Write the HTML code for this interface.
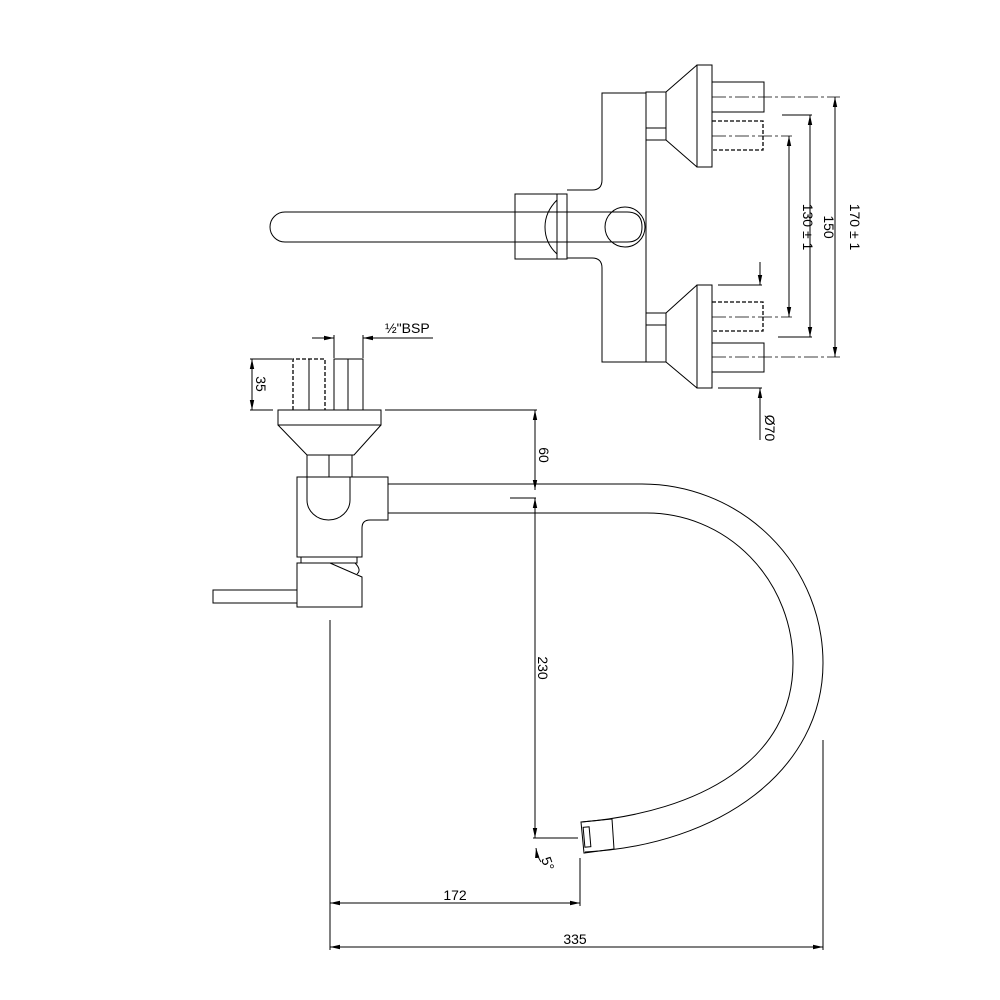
<!DOCTYPE html>
<html><head><meta charset="utf-8"><style>html,body{margin:0;padding:0;background:#fff}svg{display:block}text{font-family:"Liberation Sans",sans-serif;font-size:14px;fill:#000}</style></head>
<body>
<svg width="1000" height="1000" viewBox="0 0 1000 1000" xmlns="http://www.w3.org/2000/svg">
<defs>
<marker id="a" viewBox="0 0 10 6" refX="10" refY="3" markerWidth="10" markerHeight="6" orient="auto-start-reverse" markerUnits="userSpaceOnUse"><path d="M0,0.8 L10,3 L0,5.2 z" fill="#000"/></marker>
</defs>
<g fill="none" stroke="#000" stroke-width="1">
<path d="M646,93 H602 V180 Q602,190 592,190 H567"/>
<path d="M646,362 H602 V268 Q602,258 592,258 H567"/>
<line x1="646" y1="92" x2="646" y2="362"/>
<rect x="646" y="92" width="20" height="48"/><line x1="646" y1="128" x2="666" y2="128"/>
<rect x="646" y="313" width="20" height="49"/><line x1="646" y1="325" x2="666" y2="325"/>
<path d="M666,92 L697,65 M666,140 L697,167"/>
<rect x="697" y="65" width="15" height="102"/>
<path d="M666,313 L697,285 M666,362 L697,388"/>
<rect x="697" y="285" width="15" height="103"/>
<rect x="712" y="82" width="52" height="30"/>
<path d="M712,121 H763 V150 H712" stroke-dasharray="4,2" stroke-width="1.3"/>
<path d="M712,302 H763 V331 H712" stroke-dasharray="4,2" stroke-width="1.3"/>
<rect x="712" y="343" width="52" height="29"/>
<g stroke-dasharray="14,3,3,3" stroke-width="0.7">
<line x1="712" y1="97" x2="840" y2="97"/><line x1="712" y1="136" x2="792" y2="136"/>
<line x1="712" y1="317" x2="792" y2="317"/><line x1="712" y1="357" x2="840" y2="357"/>
</g>
<rect x="515" y="194" width="42" height="65"/>
<rect x="557" y="194" width="10" height="65"/>
<path d="M557,200 Q545,212 545,227 Q545,243 557,254"/>
<circle cx="625" cy="227" r="20"/>
<path d="M642,227 Q642,212 627,212 H285 A15,15 0 0 0 285,242 H627 Q642,242 642,227"/>
<line x1="782" y1="115" x2="812" y2="115"/><line x1="778" y1="337" x2="812" y2="337"/>
<line x1="835" y1="97" x2="835" y2="357" marker-start="url(#a)" marker-end="url(#a)"/>
<line x1="810" y1="115" x2="810" y2="337" marker-start="url(#a)" marker-end="url(#a)"/>
<line x1="789" y1="136" x2="789" y2="317" marker-start="url(#a)" marker-end="url(#a)"/>
<line x1="718" y1="285" x2="762" y2="285"/><line x1="718" y1="388" x2="762" y2="388"/>
<line x1="760" y1="262" x2="760" y2="285" marker-end="url(#a)"/>
<line x1="760" y1="440" x2="760" y2="388" marker-end="url(#a)"/>
<path d="M293,410 V359 H325 V410" stroke-dasharray="4,2" stroke-width="1.3"/>
<line x1="309" y1="359" x2="309" y2="410"/>
<rect x="334" y="359" width="29" height="51"/><line x1="348" y1="359" x2="348" y2="410"/>
<rect x="278" y="410" width="103" height="15"/>
<path d="M278,425 L307,455 H354 L381,425"/>
<rect x="307" y="455" width="45" height="22"/><line x1="329" y1="455" x2="329" y2="477"/>
<path d="M297,477 H388 V520 H370 Q362,520 362,528 V557 H297 Z"/>
<path d="M307,477 V500 A21.5,20 0 0 0 350,500 V477"/>
<rect x="301" y="557" width="56" height="6"/>
<path d="M297,563 H330 L362,577 V607 H297 Z"/>
<path d="M355,563 Q362,570 357,574"/>
<rect x="213" y="590" width="84" height="13"/>
<path d="M388,484 H642 A181,179 0 0 1 823,663 C823,770 720,845 585,852"/>
<path d="M388,513 H647 A146,150 0 0 1 793,663 C793,760 700,812 582,822"/>
<path d="M581,822 L612,819 L614,849 L584,853 Z"/>
<rect x="584" y="827" width="6" height="20" transform="rotate(-5 587 837)"/>
<line x1="250" y1="359" x2="292" y2="359"/><line x1="250" y1="410" x2="273" y2="410"/>
<line x1="252" y1="359" x2="252" y2="410" marker-start="url(#a)" marker-end="url(#a)"/>
<line x1="334" y1="335" x2="334" y2="358"/><line x1="363" y1="335" x2="363" y2="358"/>
<line x1="312" y1="338" x2="334" y2="338" marker-end="url(#a)"/>
<line x1="433" y1="338" x2="363" y2="338" marker-end="url(#a)"/>
<line x1="385" y1="410" x2="537" y2="410"/>
<line x1="535" y1="410" x2="535" y2="490" marker-start="url(#a)" marker-end="url(#a)"/>
<line x1="510" y1="498" x2="536" y2="498"/>
<line x1="535" y1="498" x2="535" y2="838" marker-start="url(#a)" marker-end="url(#a)"/>
<line x1="533" y1="838" x2="578" y2="838"/>
<path d="M536,848 Q537,856 541,862" marker-start="url(#a)"/>
<line x1="330" y1="620" x2="330" y2="950"/>
<line x1="580" y1="858" x2="580" y2="906"/>
<line x1="823" y1="740" x2="823" y2="950"/>
<line x1="330" y1="903" x2="580" y2="903" marker-start="url(#a)" marker-end="url(#a)"/>
<line x1="330" y1="947" x2="823" y2="947" marker-start="url(#a)" marker-end="url(#a)"/>
</g>
<text transform="translate(850,227) rotate(90)" text-anchor="middle">170 ± 1</text>
<text transform="translate(824,227) rotate(90)" text-anchor="middle">150</text>
<text transform="translate(803,227) rotate(90)" text-anchor="middle">130 ± 1</text>
<text transform="translate(765,428) rotate(90)" text-anchor="middle">Ø70</text>
<text transform="translate(256,384) rotate(90)" text-anchor="middle">35</text>
<text x="385" y="333">½"BSP</text>
<text transform="translate(539,455) rotate(90)" text-anchor="middle">60</text>
<text transform="translate(538,668) rotate(90)" text-anchor="middle">230</text>
<text transform="translate(541,859) rotate(70)">5°</text>
<text x="455" y="900" text-anchor="middle">172</text>
<text x="575" y="944" text-anchor="middle">335</text>
</svg>
</body></html>
